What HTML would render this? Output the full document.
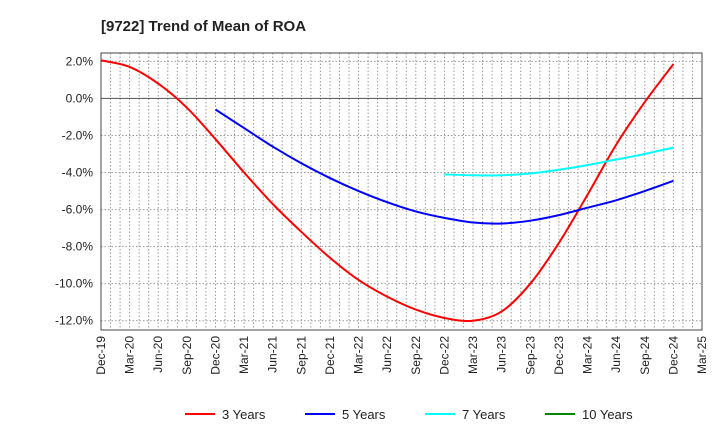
<!DOCTYPE html>
<html><head><meta charset="utf-8"><style>
body{margin:0;background:#fff;font-family:"Liberation Sans",sans-serif}
svg text{font-family:"Liberation Sans",sans-serif}
</style></head><body>
<svg width="720" height="440" id="c">
<text x="101" y="31" font-size="15" font-weight="bold" fill="#222">[9722]  Trend of Mean of ROA</text>
<g id="grid"></g><g id="axes"></g><g id="series"></g><g id="legend"></g>
</svg>
<script>
const xLabels=["Dec-19","Mar-20","Jun-20","Sep-20","Dec-20","Mar-21","Jun-21","Sep-21","Dec-21","Mar-22","Jun-22","Sep-22","Dec-22","Mar-23","Jun-23","Sep-23","Dec-23","Mar-24","Jun-24","Sep-24","Dec-24","Mar-25"];
const yTicks=[2,0,-2,-4,-6,-8,-10,-12];
const s3Start=0;
const s3=[2.05,1.7,0.8,-0.5,-2.2,-4.0,-5.7,-7.2,-8.6,-9.8,-10.7,-11.4,-11.85,-12.0,-11.5,-10.0,-7.8,-5.2,-2.5,-0.2,1.85];
const s5Start=4;
const s5=[-0.6,-1.6,-2.6,-3.5,-4.3,-5.0,-5.6,-6.1,-6.45,-6.7,-6.75,-6.6,-6.3,-5.9,-5.5,-5.0,-4.45];
const s7Start=12;
const s7=[-4.1,-4.15,-4.15,-4.05,-3.85,-3.6,-3.3,-3.0,-2.65];
const s10=[];
const L=101,R=702,T=53,B=330,yMax=2.45,yMin=-12.5;
const X=i=>L+(R-L)*i/21;
const Y=v=>T+(B-T)*(yMax-v)/(yMax-yMin);
const NS="http://www.w3.org/2000/svg";
function mk(tag,at,parent){const e=document.createElementNS(NS,tag);for(const k in at)e.setAttribute(k,at[k]);parent.appendChild(e);return e;}
const grid=document.getElementById('grid'),axes=document.getElementById('axes'),ser=document.getElementById('series'),leg=document.getElementById('legend');
for(let m=1;m<63;m++){const x=L+(R-L)*m/63;const l=mk('line',{x1:x,x2:x,y1:T,y2:B,stroke:'#999','stroke-dasharray':'1.5,2','stroke-width':1},grid);

}
yTicks.forEach(v=>{const y=Y(v);const l=mk('line',{x1:L,x2:R,y1:y,y2:y,stroke:v===0?'#555':'#999','stroke-dasharray':v===0?'':'1.5,2','stroke-width':1},grid);


const t=mk('text',{x:L-8,y:y+4,'text-anchor':'end','font-size':12,fill:'#222'},axes);t.textContent=v.toFixed(1)+'%';

});
const fr=mk('rect',{x:L,y:T,width:R-L,height:B-T,fill:'none',stroke:'#444'},axes);


xLabels.forEach((s,i)=>{const x=X(i);const t=mk('text',{transform:`translate(${x+4},${B+6}) rotate(-90)`,'text-anchor':'end','font-size':12,fill:'#222'},axes);t.textContent=s;

});
function path(vals,start){const p=vals.map((v,i)=>[X(start+i),Y(v)]);let d=`M${p[0][0]},${p[0][1]}`;
for(let i=0;i<p.length-1;i++){const p0=p[i-1]||p[i],p1=p[i],p2=p[i+1],p3=p[i+2]||p2;
d+=` C${p1[0]+(p2[0]-p0[0])/6},${p1[1]+(p2[1]-p0[1])/6} ${p2[0]-(p3[0]-p1[0])/6},${p2[1]-(p3[1]-p1[1])/6} ${p2[0]},${p2[1]}`;}return d;}
[[s3,s3Start,'#f00','series-3-years'],[s5,s5Start,'#00f','series-5-years'],[s7,s7Start,'#0ff','series-7-years']].forEach(([v,s,c,n])=>{
const e=mk('path',{d:path(v,s),fill:'none',stroke:c,'stroke-width':2},ser);

});
[['3 Years','#f00',185],['5 Years','#00f',305],['7 Years','#0ff',425],['10 Years','#080',545]].forEach(([n,c,x])=>{
const g=mk('g',{},leg);


mk('line',{x1:x,x2:x+30,y1:414,y2:414,stroke:c,'stroke-width':2},g);
const t=mk('text',{x:x+37,y:419,'font-size':13,fill:'#222'},g);t.textContent=n;});
</script>
</body></html>
